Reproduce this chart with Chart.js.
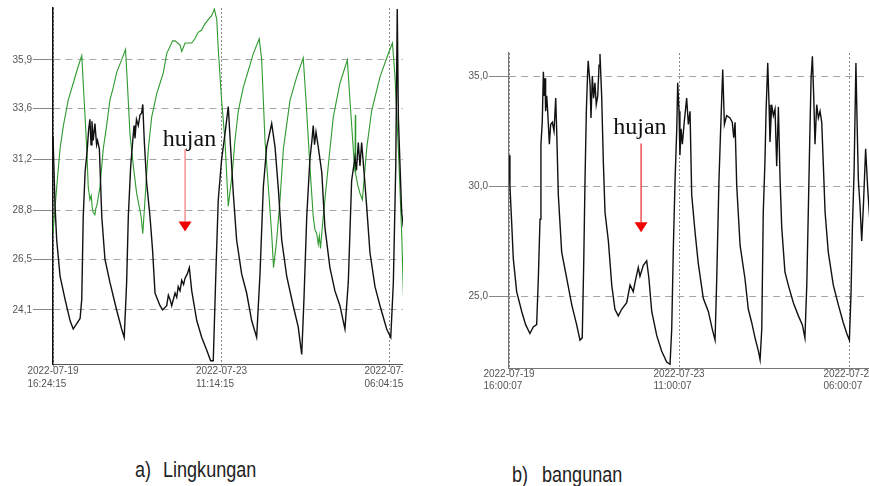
<!DOCTYPE html>
<html>
<head>
<meta charset="utf-8">
<title>Suhu lingkungan dan bangunan</title>
<script src="https://cdn.jsdelivr.net/npm/chart.js@4.4.0/dist/chart.umd.min.js"></script>
<style>
  html, body { margin: 0; padding: 0; background: #fff; }
  body { position: relative; width: 869px; height: 486px; overflow: hidden; }
  canvas { position: absolute; top: 0; }
  #chartA { left: 0; }
  #chartB { left: 455px; }
  .cap {
    position: absolute;
    font: 22px "Liberation Sans", Arial, sans-serif;
    line-height: 22px;
    color: #222;
    white-space: nowrap;
    transform: scaleX(0.82);
    transform-origin: left center;
  }
</style>
</head>
<body>
<canvas id="chartA" width="403" height="400"></canvas>
<canvas id="chartB" width="414" height="400"></canvas>
<div class="cap" style="left:135px; top:459px">a)</div>
<div class="cap" style="left:163px; top:459px">Lingkungan</div>
<div class="cap" style="left:512px; top:464px">b)</div>
<div class="cap" style="left:542px; top:464px">bangunan</div>

<script>
// [hours since first sample, temperature]
const lingkunganHijau = [
  [0.0, 27.7], [2.0, 29.9], [3.8, 31.7], [5.6, 32.8], [8.2, 34.0], [10.9, 34.8], [13.6, 35.6], [15.5, 36.1],
  [16.3, 34.8], [17.3, 33.2], [18.2, 31.7], [19.0, 29.9], [19.9, 29.3], [20.6, 29.5], [21.2, 28.9], [21.7, 28.7],
  [22.6, 28.6], [23.1, 28.9], [23.6, 29.0], [25.3, 29.9], [27.1, 31.7], [28.9, 32.8], [30.7, 34.0], [32.5, 34.6],
  [34.3, 35.3], [37.0, 35.9], [39.1, 36.4], [40.1, 34.8], [41.5, 32.4], [43.3, 30.9], [45.1, 29.6], [46.9, 28.8],
  [47.5, 28.5], [48.4, 27.7], [49.6, 29.3], [51.4, 31.7], [53.2, 33.2], [55.9, 34.3], [57.7, 34.8], [59.5, 35.3],
  [61.3, 36.2], [64.5, 36.8], [65.8, 36.8], [68.5, 36.6], [69.4, 36.3], [71.2, 36.7], [74.8, 36.7], [76.5, 36.9],
  [78.3, 37.2], [80.0, 37.3], [81.9, 37.6], [83.7, 37.8], [85.6, 38.0], [87.0, 38.3], [88.3, 37.8], [89.1, 36.4],
  [90.9, 34.0], [92.7, 32.1], [94.5, 29.0], [96.7, 30.6], [98.1, 32.1], [99.9, 33.5], [102.6, 34.6], [105.3, 35.4],
  [108.0, 36.2], [111.2, 36.9], [112.5, 35.9], [114.3, 32.1], [116.1, 29.9], [117.9, 27.7], [118.9, 26.1], [120.6, 27.4],
  [122.4, 29.3], [124.2, 31.7], [127.8, 34.0], [131.4, 35.1], [134.9, 36.0], [136.4, 34.0], [138.5, 30.9], [140.3, 28.5],
  [141.2, 27.9], [142.2, 27.7], [143.0, 27.2], [143.6, 27.6], [144.2, 27.0], [145.7, 28.5], [148.4, 30.9], [151.1, 33.2],
  [154.7, 34.8], [158.7, 35.9], [160.1, 34.0], [161.9, 31.7], [162.8, 30.6], [163.0, 33.3], [163.2, 30.5], [164.3, 30.0],
  [165.5, 29.6], [166.8, 29.3], [169.1, 31.7], [171.8, 33.5], [176.3, 35.1], [180.8, 36.2], [183.0, 36.7], [184.4, 35.1],
  [186.2, 31.7], [188.0, 27.7], [189.0, 24.6]
];

const lingkunganHitam = [
  [0.0, 32.3], [1.1, 29.0], [2.0, 27.4], [3.8, 25.7], [6.5, 24.6], [9.2, 23.6], [10.9, 23.2], [14.6, 23.7],
  [15.5, 24.6], [16.3, 28.5], [17.3, 30.6], [18.5, 31.7], [19.2, 32.6], [19.9, 33.1], [20.5, 31.9], [21.0, 33.0],
  [21.7, 32.1], [22.6, 32.9], [23.5, 31.9], [24.0, 32.1], [25.0, 31.7], [26.3, 28.5], [28.0, 26.5], [30.7, 25.4],
  [34.3, 24.1], [37.0, 23.2], [38.4, 22.8], [39.7, 25.4], [40.6, 28.5], [41.9, 30.9], [43.0, 32.1], [43.7, 32.8],
  [44.2, 32.2], [45.0, 33.1], [46.0, 32.8], [46.9, 33.3], [47.8, 33.4], [48.4, 33.8], [49.2, 32.1], [50.5, 30.1],
  [52.3, 28.5], [53.7, 26.9], [55.0, 24.9], [57.7, 24.3], [59.1, 24.1], [61.3, 24.3], [62.2, 24.8], [63.1, 24.6],
  [64.0, 24.3], [65.8, 24.9], [66.7, 24.7], [67.5, 25.2], [68.5, 25.0], [69.4, 25.5], [70.4, 25.3], [71.2, 25.6],
  [72.4, 25.8], [73.5, 26.1], [74.8, 25.0], [77.5, 23.6], [80.2, 22.8], [82.9, 22.2], [85.0, 21.7], [86.4, 21.7],
  [87.9, 26.1], [89.1, 29.3], [90.9, 31.2], [92.7, 32.4], [94.5, 33.7], [95.8, 31.7], [97.2, 29.6], [99.0, 27.4],
  [101.7, 25.8], [104.4, 24.9], [107.1, 23.6], [109.8, 22.8], [111.6, 25.8], [113.4, 29.9], [115.2, 31.8], [117.9, 32.9],
  [119.7, 31.8], [121.5, 29.8], [123.3, 27.4], [126.0, 25.7], [129.5, 24.3], [132.2, 23.3], [134.1, 22.0], [135.3, 24.6],
  [136.8, 28.5], [138.5, 31.2], [139.6, 32.1], [140.3, 32.8], [141.0, 31.9], [141.8, 32.5], [143.0, 31.8], [144.9, 30.6],
  [146.6, 28.0], [149.3, 26.1], [152.0, 25.0], [154.7, 24.3], [157.4, 23.2], [159.2, 25.4], [161.0, 30.2], [162.8, 31.3],
  [163.6, 30.7], [164.6, 32.0], [165.5, 30.9], [166.4, 32.0], [167.7, 30.6], [169.1, 29.0], [170.9, 26.8], [173.6, 25.2],
  [176.3, 24.3], [179.9, 23.2], [182.1, 22.8], [183.5, 25.4], [184.8, 30.9], [185.6, 38.3], [186.2, 33.2], [187.1, 30.9],
  [188.0, 28.7], [188.9, 28.0]
];

const bangunanHitam = [
  [0.0, 31.4], [0.5, 30.0], [1.4, 28.4], [2.3, 26.7], [4.1, 25.2], [6.8, 24.3], [8.9, 23.7], [11.2, 23.3],
  [13.0, 23.6], [14.8, 23.7], [15.7, 25.8], [16.6, 28.5], [17.1, 31.9], [17.8, 32.9], [18.4, 35.2], [18.9, 34.1],
  [19.3, 34.9], [19.6, 33.4], [20.2, 34.1], [20.7, 33.4], [21.6, 31.9], [22.3, 32.8], [23.2, 32.9], [24.1, 32.5],
  [25.0, 34.0], [25.5, 32.6], [26.4, 29.6], [28.2, 27.0], [30.9, 25.8], [33.6, 24.6], [36.2, 23.7], [38.0, 23.0],
  [39.2, 23.1], [40.0, 26.5], [40.7, 30.3], [41.4, 33.4], [42.1, 35.2], [42.4, 35.7], [43.4, 34.6], [43.9, 33.1],
  [44.6, 35.0], [45.3, 34.0], [46.0, 34.7], [46.7, 33.7], [47.5, 34.1], [48.2, 35.5], [48.7, 36.0], [49.6, 34.1],
  [50.5, 31.1], [51.4, 28.8], [53.2, 27.5], [55.0, 25.5], [56.7, 24.4], [58.5, 24.1], [60.3, 24.4], [63.0, 24.7],
  [64.8, 25.5], [66.5, 25.2], [67.4, 25.6], [69.2, 26.3], [70.1, 25.9], [71.9, 26.4], [73.7, 26.6], [74.9, 25.8],
  [76.4, 24.3], [79.1, 23.2], [81.7, 22.5], [84.4, 22.0], [86.2, 21.9], [87.1, 23.5], [88.0, 27.3], [88.9, 30.3],
  [89.8, 32.6], [90.3, 34.7], [91.0, 33.4], [91.5, 31.4], [92.1, 32.6], [92.8, 31.9], [93.8, 32.9], [95.1, 34.0],
  [96.0, 32.8], [96.9, 33.4], [97.8, 29.6], [99.6, 27.9], [101.3, 26.5], [104.0, 24.9], [106.7, 24.3], [108.8, 23.5],
  [110.3, 23.0], [111.2, 25.8], [112.4, 30.3], [113.3, 32.6], [114.4, 35.3], [115.3, 32.8], [116.5, 33.2], [118.3, 33.1],
  [119.5, 32.9], [120.3, 32.2], [121.0, 32.9], [121.9, 30.0], [123.7, 27.3], [126.3, 25.8], [128.1, 24.4], [129.9, 23.8],
  [131.7, 23.1], [133.5, 22.5], [134.4, 22.1], [135.3, 23.5], [136.1, 28.8], [137.0, 31.1], [137.6, 33.4], [138.5, 35.6],
  [139.2, 33.7], [139.7, 32.0], [140.6, 33.7], [141.5, 33.2], [142.4, 33.5], [143.3, 30.9], [144.2, 33.6], [145.1, 30.3],
  [146.0, 28.1], [147.7, 26.1], [149.5, 25.5], [152.2, 24.7], [154.9, 24.1], [157.0, 23.7], [158.4, 23.1], [159.4, 25.5],
  [160.2, 28.8], [161.1, 32.6], [161.7, 34.9], [162.4, 35.9], [163.1, 34.1], [163.8, 31.9], [164.7, 33.7], [165.6, 33.1],
  [166.5, 33.4], [167.4, 32.9], [168.2, 31.1], [169.2, 28.8], [170.9, 27.0], [173.6, 25.5], [176.3, 24.6], [178.9, 23.8],
  [180.8, 23.3], [182.2, 23.0], [183.1, 25.2], [183.8, 28.1], [184.7, 30.6], [185.7, 35.6], [186.4, 32.6], [187.0, 30.3],
  [187.9, 29.1], [188.8, 27.5], [189.7, 29.1], [190.9, 31.7], [192.0, 29.9], [193.1, 28.5]
];

// time axis ticks (hours) and their two-line labels
const ticksJamA = [0, 90.83, 181.67];
const labelJamA = [['2022-07-19', '16:24:15'], ['2022-07-23', '11:14:15'], ['2022-07-27', '06:04:15']];
const ticksJamB = [0, 91, 182];
const labelJamB = [['2022-07-19', '16:00:07'], ['2022-07-23', '11:00:07'], ['2022-07-27', '06:00:07']];

const ticksSuhuA = [24.1, 26.5, 28.8, 31.2, 33.6, 35.9];
const ticksSuhuB = [25, 30, 35];

// "hujan" (rain) notes, in data units
const hujanA = { arrowHour: 71.2, textHour: 73.6, textValue: 31.84, fromValue: 31.7, toValue: 27.8, lineColor: '#f47878' };
const hujanB = { arrowHour: 70.7, textHour: 70.1, textValue: 32.35, fromValue: 31.94, toValue: 27.9, lineColor: '#e82222' };

const LABEL_FONT = '10px "Liberation Sans", Arial, sans-serif';

// date/time under each tick: block centred on the tick, lines left aligned
function timeLabels(labels, row1, row2) {
  return {
    id: 'timeLabels',
    afterDraw(chart) {
      const { ctx, chartArea } = chart;
      const x = chart.scales.x;
      ctx.save();
      ctx.font = LABEL_FONT;
      ctx.fillStyle = '#555';
      ctx.textAlign = 'left';
      ctx.textBaseline = 'middle';
      x.ticks.forEach((t, i) => {
        const lines = labels[i];
        const px = x.getPixelForValue(t.value);
        const left = px - ctx.measureText(lines[0]).width / 2;
        ctx.fillText(lines[0], left, chartArea.bottom + row1);
        ctx.fillText(lines[1], left, chartArea.bottom + row2);
      });
      ctx.restore();
    }
  };
}

function hujanNote(note) {
  return {
    id: 'hujan',
    afterDatasetsDraw(chart) {
      const { ctx } = chart;
      const { x, y } = chart.scales;
      const ax = x.getPixelForValue(note.arrowHour);
      const y0 = y.getPixelForValue(note.fromValue);
      const tip = y.getPixelForValue(note.toValue);
      ctx.save();
      ctx.font = '24px "Liberation Serif", "Times New Roman", serif';
      ctx.fillStyle = '#111';
      ctx.textAlign = 'center';
      ctx.textBaseline = 'alphabetic';
      ctx.fillText('hujan', x.getPixelForValue(note.textHour), y.getPixelForValue(note.textValue));

      ctx.strokeStyle = note.lineColor;
      ctx.lineWidth = 1.2;
      ctx.beginPath();
      ctx.moveTo(ax, y0);
      ctx.lineTo(ax, tip - 10);
      ctx.stroke();

      ctx.fillStyle = '#f00000';
      ctx.beginPath();
      ctx.moveTo(ax - 6.5, tip - 10);
      ctx.lineTo(ax + 6.5, tip - 10);
      ctx.lineTo(ax, tip);
      ctx.closePath();
      ctx.fill();
      ctx.restore();
    }
  };
}

function makeChart(id, setup) {
  return new Chart(document.getElementById(id), {
    type: 'line',
    data: {
      datasets: setup.series.map(s => ({
        data: s.points.map(p => ({ x: p[0], y: p[1] })),
        borderColor: s.color,
        borderWidth: s.width,
        pointRadius: 0,
        tension: 0,
        fill: false
      }))
    },
    options: {
      responsive: false,
      animation: false,
      events: [],
      layout: { autoPadding: false, padding: { top: setup.top, right: 0, bottom: 0, left: 0 } },
      plugins: { legend: { display: false }, tooltip: { enabled: false } },
      scales: {
        x: {
          type: 'linear',
          min: 0,
          max: setup.xMax,
          afterBuildTicks: s => { s.ticks = setup.timeTicks.map(v => ({ value: v })); },
          afterFit: s => { s.height = setup.bottomSpace; },
          ticks: { display: false },
          grid: { color: '#8c8c8c', tickLength: 4, tickBorderDash: [2, 2] },
          border: { color: setup.xAxisColor, width: 1, dash: [2, 2] }
        },
        y: {
          type: 'linear',
          min: setup.yMin,
          max: setup.yMax,
          afterBuildTicks: s => { s.ticks = setup.valueTicks.map(v => ({ value: v })); },
          afterFit: s => { s.width = setup.axisLeft; },
          ticks: {
            font: { family: '"Liberation Sans", Arial, sans-serif', size: 10 },
            color: '#555',
            padding: 1,
            callback: v => v.toFixed(1).replace('.', ',')
          },
          grid: { color: '#a6a6a6', tickLength: 20, tickColor: '#888' },
          border: { color: setup.yAxisColor, width: setup.yAxisWidth, dash: [7, 5] }
        }
      }
    },
    plugins: [timeLabels(setup.timeLabels, setup.row1, setup.row2), hujanNote(setup.note)]
  });
}

makeChart('chartA', {
  series: [
    { points: lingkunganHitam, color: '#111111', width: 1.4 },
    { points: lingkunganHijau, color: '#2e9a2e', width: 1.1 }
  ],
  top: 8, bottomSpace: 36, axisLeft: 53,
  xMax: 188.7, yMin: 21.55, yMax: 38.35,
  timeTicks: ticksJamA, timeLabels: labelJamA, valueTicks: ticksSuhuA,
  row1: 7, row2: 20,
  xAxisColor: '#555', yAxisColor: '#111', yAxisWidth: 1.5,
  note: hujanA
});

makeChart('chartB', {
  series: [
    { points: bangunanHitam, color: '#111111', width: 1.4 }
  ],
  top: 53, bottomSpace: 32, axisLeft: 54,
  xMax: 192.7, yMin: 21.73, yMax: 36.05,
  timeTicks: ticksJamB, timeLabels: labelJamB, valueTicks: ticksSuhuB,
  row1: 6, row2: 18,
  xAxisColor: '#777', yAxisColor: '#777', yAxisWidth: 1.2,
  note: hujanB
});
</script>
</body>
</html>
